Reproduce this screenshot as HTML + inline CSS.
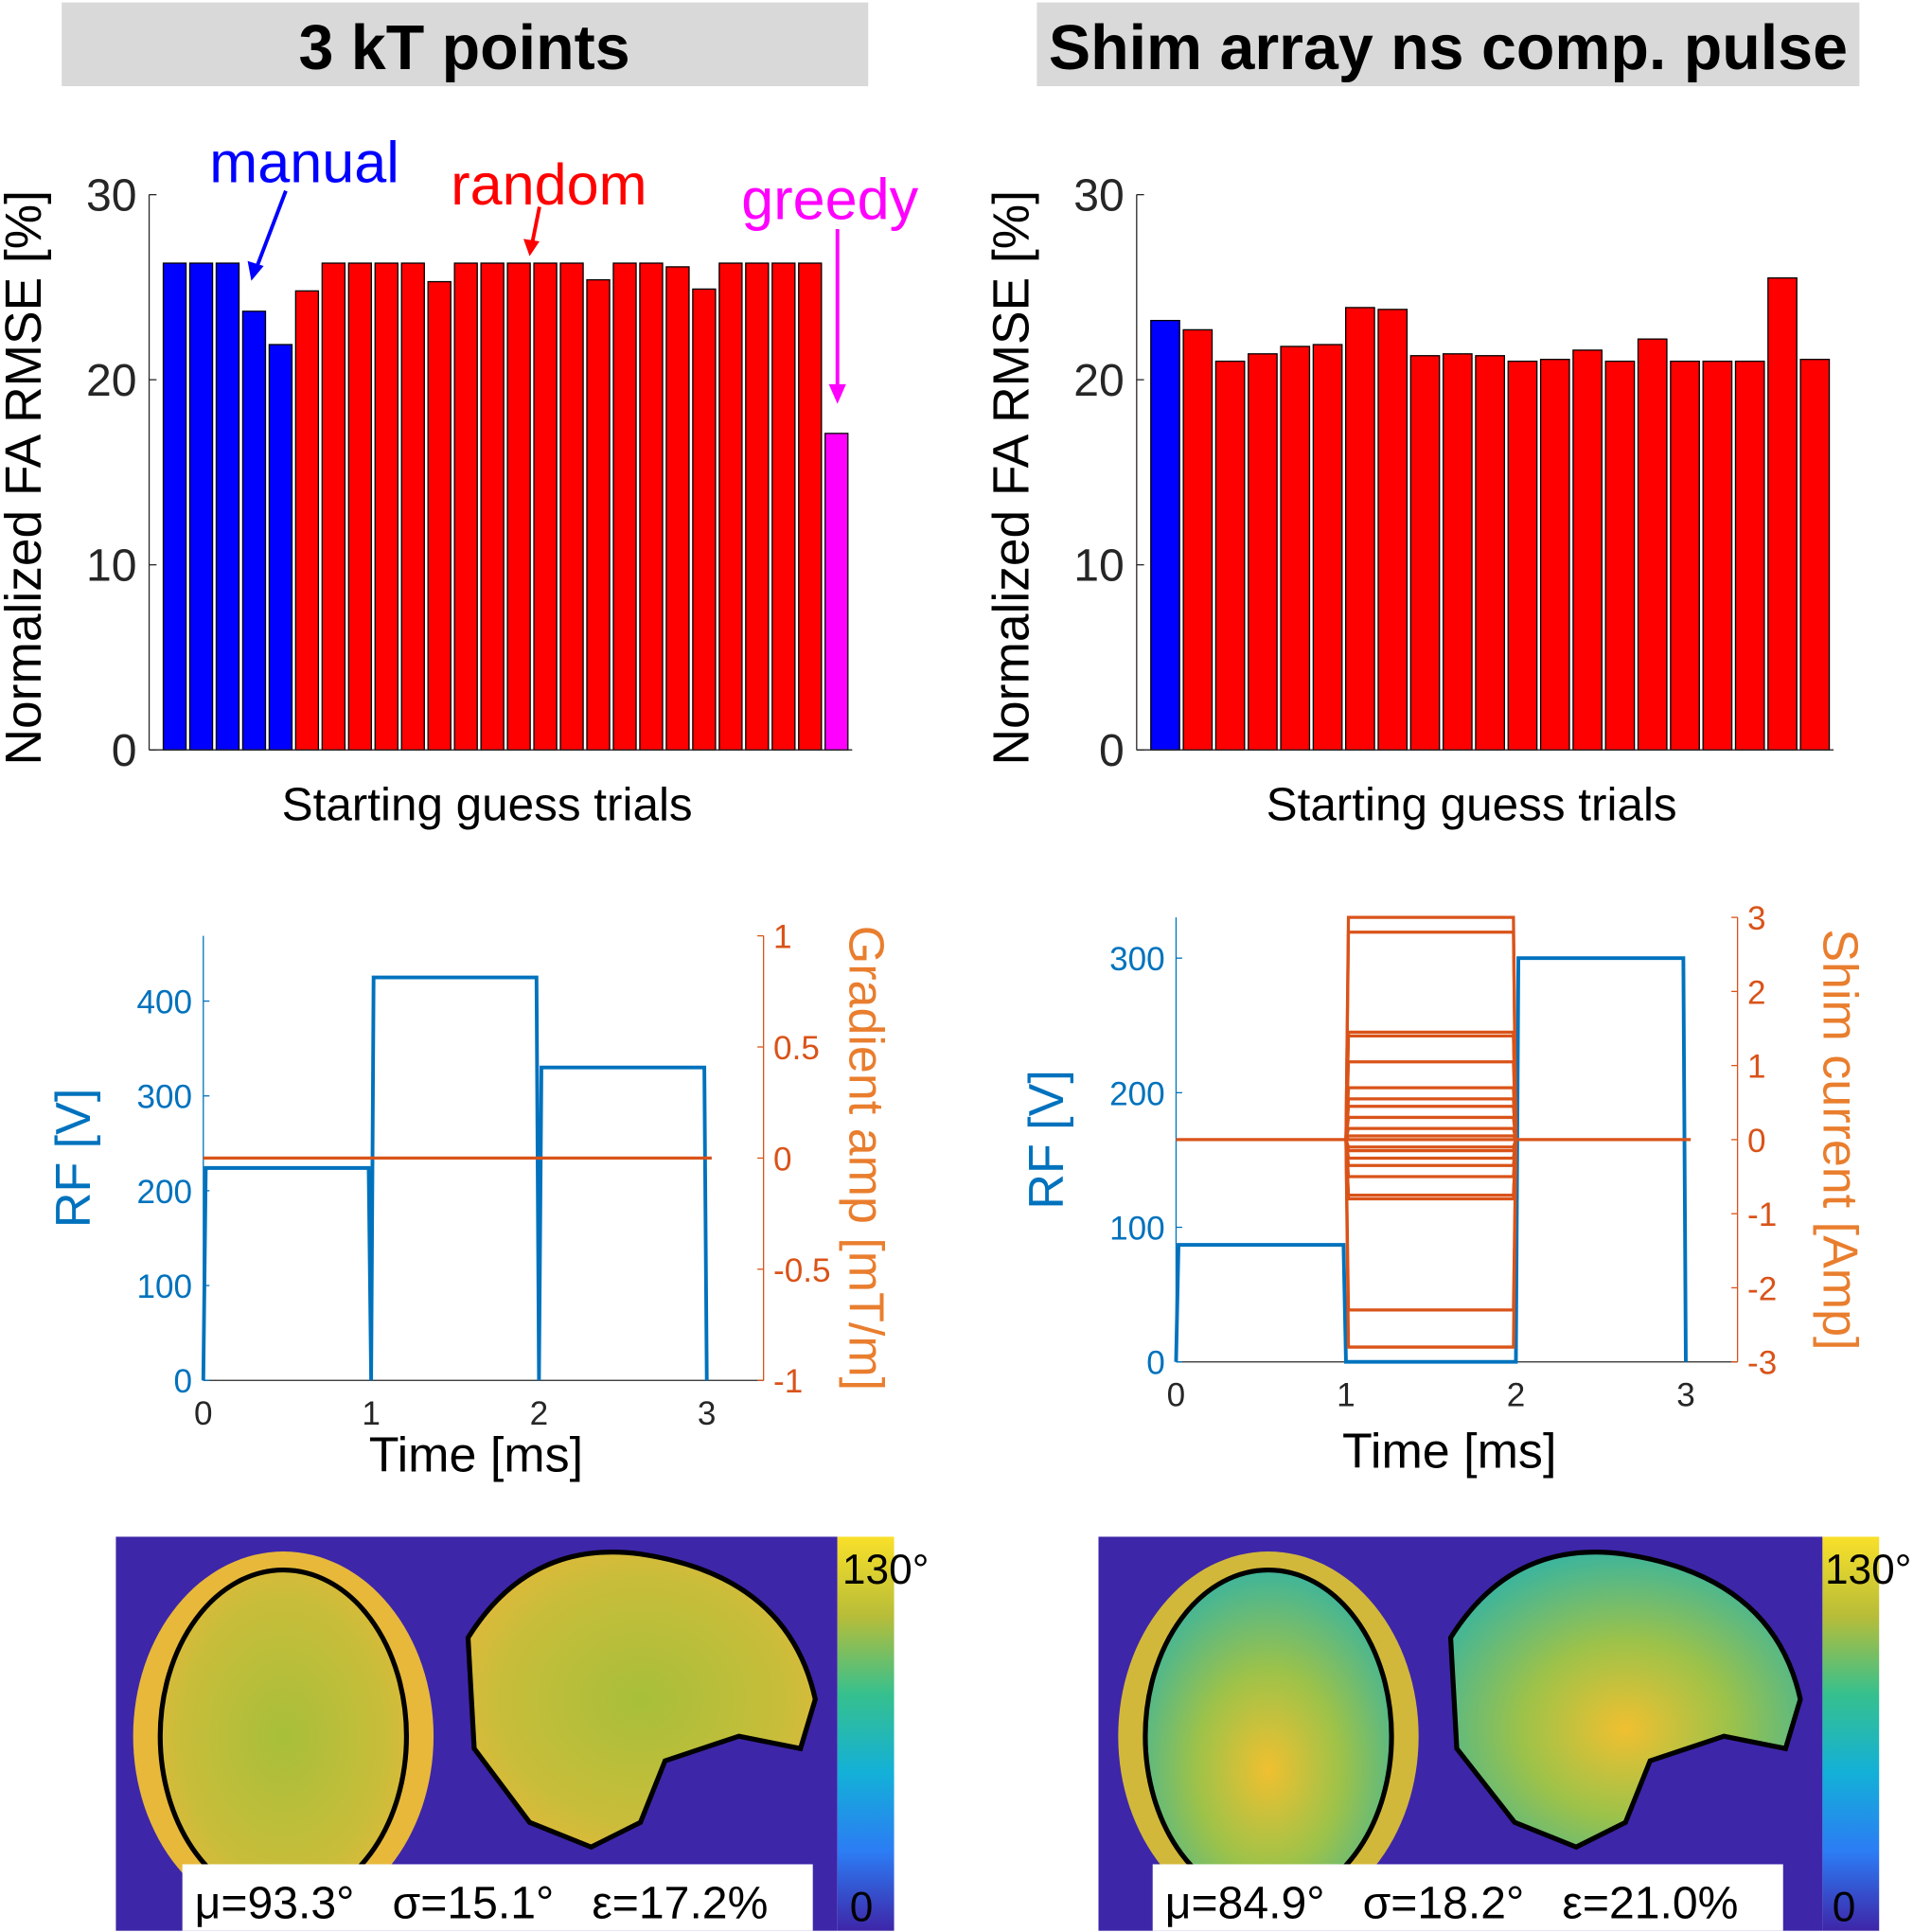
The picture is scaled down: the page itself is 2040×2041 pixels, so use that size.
<!DOCTYPE html>
<html><head><meta charset="utf-8"><style>
html,body{margin:0;padding:0;background:#fff}
svg{display:block;font-family:"Liberation Sans",sans-serif}
.pre{white-space:pre}
</style></head><body>
<svg id="s" width="2040" height="2041" viewBox="0 0 1568 1569" xmlns="http://www.w3.org/2000/svg">
<defs>
<linearGradient id="parula" x1="0" y1="1" x2="0" y2="0">
<stop offset="0" stop-color="#3e26a8"/><stop offset="0.2" stop-color="#2c7cf4"/><stop offset="0.4" stop-color="#13b0d8"/><stop offset="0.6" stop-color="#36c08e"/><stop offset="0.8" stop-color="#b8bd38"/><stop offset="1" stop-color="#f9e02a"/>
</linearGradient>
<radialGradient id="brainA" cx="0.5" cy="0.5" r="0.6"><stop offset="0" stop-color="#a7bf3a"/><stop offset="0.7" stop-color="#c9bd3a"/><stop offset="1" stop-color="#e6b83a"/></radialGradient>
<radialGradient id="brainB" cx="0.5" cy="0.6" r="0.6"><stop offset="0" stop-color="#f0c030"/><stop offset="0.5" stop-color="#9cc24a"/><stop offset="1" stop-color="#3fb59a"/></radialGradient>
</defs>
<rect x="50" y="2" width="655" height="68" fill="#d9d9d9"/>
<text x="377" y="56" font-size="51" font-weight="bold" text-anchor="middle">3 kT points</text>
<rect x="842" y="2" width="668" height="68" fill="#d9d9d9"/>
<text x="1176" y="56" font-size="51" font-weight="bold" text-anchor="middle">Shim array ns comp. pulse</text>
<g id="c1"></g>
<g id="c2"></g>
<g id="c3"></g>
<g id="c4"></g>
<g>
<rect x="94" y="1248" width="586" height="320" fill="#3e26a8"/>
<ellipse cx="230" cy="1410" rx="122" ry="150" fill="#e8b83a"/>
<ellipse cx="230" cy="1410" rx="100" ry="135" fill="url(#brainA)" stroke="#000" stroke-width="4"/>
<path d="M380 1330 Q430 1250 520 1262 Q640 1280 662 1380 L650 1420 L600 1410 L540 1430 L520 1480 L480 1500 L430 1480 L385 1420 Z" fill="url(#brainA)" stroke="#000" stroke-width="4"/>
<rect x="680" y="1248" width="46" height="320" fill="url(#parula)"/>
<text x="684" y="1286" font-size="34">130°</text>
<text x="690" y="1560" font-size="34">0</text>
<rect x="148" y="1514" width="512" height="54" fill="#fff"/>
<text class="pre" x="158" y="1558" font-size="37">μ=93.3°   σ=15.1°   ε=17.2%</text>
</g>
<g>
<rect x="892" y="1248" width="588" height="320" fill="#3e26a8"/>
<ellipse cx="1030" cy="1410" rx="122" ry="150" fill="#d2b83a"/>
<ellipse cx="1030" cy="1410" rx="100" ry="135" fill="url(#brainB)" stroke="#000" stroke-width="4"/>
<path d="M1178 1330 Q1228 1250 1318 1262 Q1440 1280 1462 1380 L1450 1420 L1400 1410 L1340 1430 L1320 1480 L1280 1500 L1230 1480 L1183 1420 Z" fill="url(#brainB)" stroke="#000" stroke-width="4"/>
<rect x="1480" y="1248" width="46" height="320" fill="url(#parula)"/>
<text x="1482" y="1286" font-size="34">130°</text>
<text x="1488" y="1560" font-size="34">0</text>
<rect x="936" y="1514" width="512" height="54" fill="#fff"/>
<text class="pre" x="946" y="1558" font-size="37">μ=84.9°   σ=18.2°   ε=21.0%</text>
</g>
</svg>
<script>
const leftVals=[26.3,26.3,26.3,23.7,21.9,24.8,26.3,26.3,26.3,26.3,25.3,26.3,26.3,26.3,26.3,26.3,25.4,26.3,26.3,26.1,24.9,26.3,26.3,26.3,26.3,17.1];
const leftColors=['b','b','b','b','b','r','r','r','r','r','r','r','r','r','r','r','r','r','r','r','r','r','r','r','r','m'];
const rightVals=[23.2,22.7,21.0,21.4,21.8,21.9,23.9,23.8,21.3,21.4,21.3,21.0,21.1,21.6,21.0,22.2,21.0,21.0,21.0,25.5,21.1];
const rightColors=['b','r','r','r','r','r','r','r','r','r','r','r','r','r','r','r','r','r','r','r','r'];
const barTicks=[0,10,20,30];
const t1RF=[224,425,330];
const t2RF=[87,0,300];
const rfTicks1=[0,100,200,300,400];
const gradTicks=[-1,-0.5,0,0.5,1];
const rfTicks2=[0,100,200,300];
const shimTicks=[-3,-2,-1,0,1,2,3];
const shimLevels=[3.0,2.8,1.45,1.4,1.05,0.7,0.55,0.45,0.3,0.15,0.05,-0.1,-0.15,-0.25,-0.35,-0.5,-0.75,-0.8,-2.3,-2.8];
const timeTicks=[0,1,2,3];
const NS='http://www.w3.org/2000/svg';
const COL={b:'#0000ff',r:'#ff0000',m:'#ff00ff'};
function mk(p,tag,a,txt){const e=document.createElementNS(NS,tag);for(const k in a)e.setAttribute(k,a[k]);if(txt!==undefined)e.textContent=txt;p.appendChild(e);return e;}
function barChart(g,vals,cols,x0,x1){
  const y=v=>609-v*15.03, n=vals.length, step=(x1-x0)/n;
  vals.forEach((v,i)=>{const r=mk(g,'rect',{x:x0+i*step+1.5,y:y(v),width:step-3,height:609-y(v),fill:COL[cols[i]],stroke:'#000','stroke-width':1});
    
    });
  mk(g,'line',{x1:x0-10,y1:158,x2:x0-10,y2:609,stroke:'#262626','stroke-width':1});
  mk(g,'line',{x1:x0-10,y1:609,x2:x1+2,y2:609,stroke:'#262626','stroke-width':1});
  barTicks.forEach(t=>{mk(g,'line',{x1:x0-10,y1:y(t),x2:x0-4,y2:y(t),stroke:'#262626'});
    const tx=mk(g,'text',{x:x0-20,y:y(t)+13,'font-size':37,'text-anchor':'end',fill:'#262626'},t);
    
    });
  const yl=mk(g,'text',{transform:`translate(${x0-98},388) rotate(-90)`,'font-size':41,'text-anchor':'middle'},'Normalized FA RMSE [%]');
  
  
  const xl=mk(g,'text',{x:(x0+x1)/2-15,y:666,'font-size':38,'text-anchor':'middle'},'Starting guess trials');
  
  
}
const c1=document.getElementById('c1');
barChart(c1,leftVals,leftColors,131,690);
mk(c1,'text',{x:170,y:148,'font-size':47,fill:'#0000ff'},'manual');
mk(c1,'line',{x1:232,y1:155,x2:208,y2:218,stroke:'#0000ff','stroke-width':3});
mk(c1,'polygon',{points:'204,228 201,212 214,216',fill:'#0000ff'});
mk(c1,'text',{x:366,y:166,'font-size':47,fill:'#ff0000'},'random');
mk(c1,'line',{x1:438,y1:168,x2:432,y2:198,stroke:'#ff0000','stroke-width':3});
mk(c1,'polygon',{points:'430,208 425,194 438,196',fill:'#ff0000'});
mk(c1,'text',{x:602,y:178,'font-size':47,fill:'#ff00ff'},'greedy');
mk(c1,'line',{x1:680,y1:186,x2:680,y2:316,stroke:'#ff00ff','stroke-width':3});
mk(c1,'polygon',{points:'680,328 673,312 687,312',fill:'#ff00ff'});
barChart(document.getElementById('c2'),rightVals,rightColors,933,1487);

function pulse(g,rf,rfT,rfPx,x0,pxms,L,R,T,B,rMin,rMax,rTicks,ylabR,levels,tly){
  const blue='#0072bd',org='#d95319';
  const X=t=>x0+t*pxms, Y=v=>B-v*rfPx, YR=v=>B-(v-rMin)/(rMax-rMin)*(B-T);
  mk(g,'line',{x1:L,y1:T,x2:L,y2:B,stroke:blue,'stroke-width':1});
  mk(g,'line',{x1:R,y1:T,x2:R,y2:B,stroke:org,'stroke-width':1});
  mk(g,'line',{x1:L,y1:B,x2:R,y2:B,stroke:'#262626','stroke-width':1});
  rfT.forEach(t=>{mk(g,'line',{x1:L,y1:Y(t),x2:L+5,y2:Y(t),stroke:blue});
    mk(g,'text',{x:L-9,y:Y(t)+10,'font-size':27,'text-anchor':'end',fill:blue},t);});
  rTicks.forEach(t=>{mk(g,'line',{x1:R-5,y1:YR(t),x2:R,y2:YR(t),stroke:org});
    mk(g,'text',{x:R+8,y:YR(t)+10,'font-size':27,fill:org},t);});
  timeTicks.forEach(t=>{mk(g,'text',{x:X(t),y:B+36,'font-size':27,'text-anchor':'middle',fill:'#262626'},t);});
  const tl=mk(g,'text',{x:(L+R)/2-6,y:B+tly,'font-size':40,'text-anchor':'middle',fill:'#000'},'Time [ms]');
  
  
  const yl=mk(g,'text',{transform:`translate(${L-92},${(T+B)/2}) rotate(-90)`,'font-size':40,'text-anchor':'middle',fill:blue},'RF [V]');
  
  
  const yr=mk(g,'text',{transform:`translate(${R+70},${(T+B)/2}) rotate(90)`,'font-size':40,'text-anchor':'middle',fill:'#e97e2e'},ylabR);
  
  
  let d=`M${X(0)} ${Y(0)}`;
  rf.forEach((v,i)=>{d+=` L${X(i)+2} ${Y(v)} L${X(i+1)-2} ${Y(v)} L${X(i+1)} ${Y(0)}`;});
  const p=mk(g,'path',{d:d,fill:'none',stroke:blue,'stroke-width':3});
  
  
  const z=mk(g,'line',{x1:X(0),y1:YR(0),x2:X(3)+4,y2:YR(0),stroke:org,'stroke-width':2.5});
  
  
  levels.forEach(v=>{const r=mk(g,'path',{d:`M${X(1)} ${YR(0)} L${X(1)+2} ${YR(v)} L${X(2)-2} ${YR(v)} L${X(2)} ${YR(0)}`,fill:'none',stroke:org,'stroke-width':2.5});
    
    });
}
pulse(document.getElementById('c3'),t1RF,rfTicks1,0.77,165,136.3,165,620,760,1121,-1,1,gradTicks,'Gradient amp [mT/m]',[],74);
pulse(document.getElementById('c4'),t2RF,rfTicks2,1.093,955,138,955,1411,745,1106,-3,3,shimTicks,'Shim current [Amp]',shimLevels,86);
</script>
</body></html>
